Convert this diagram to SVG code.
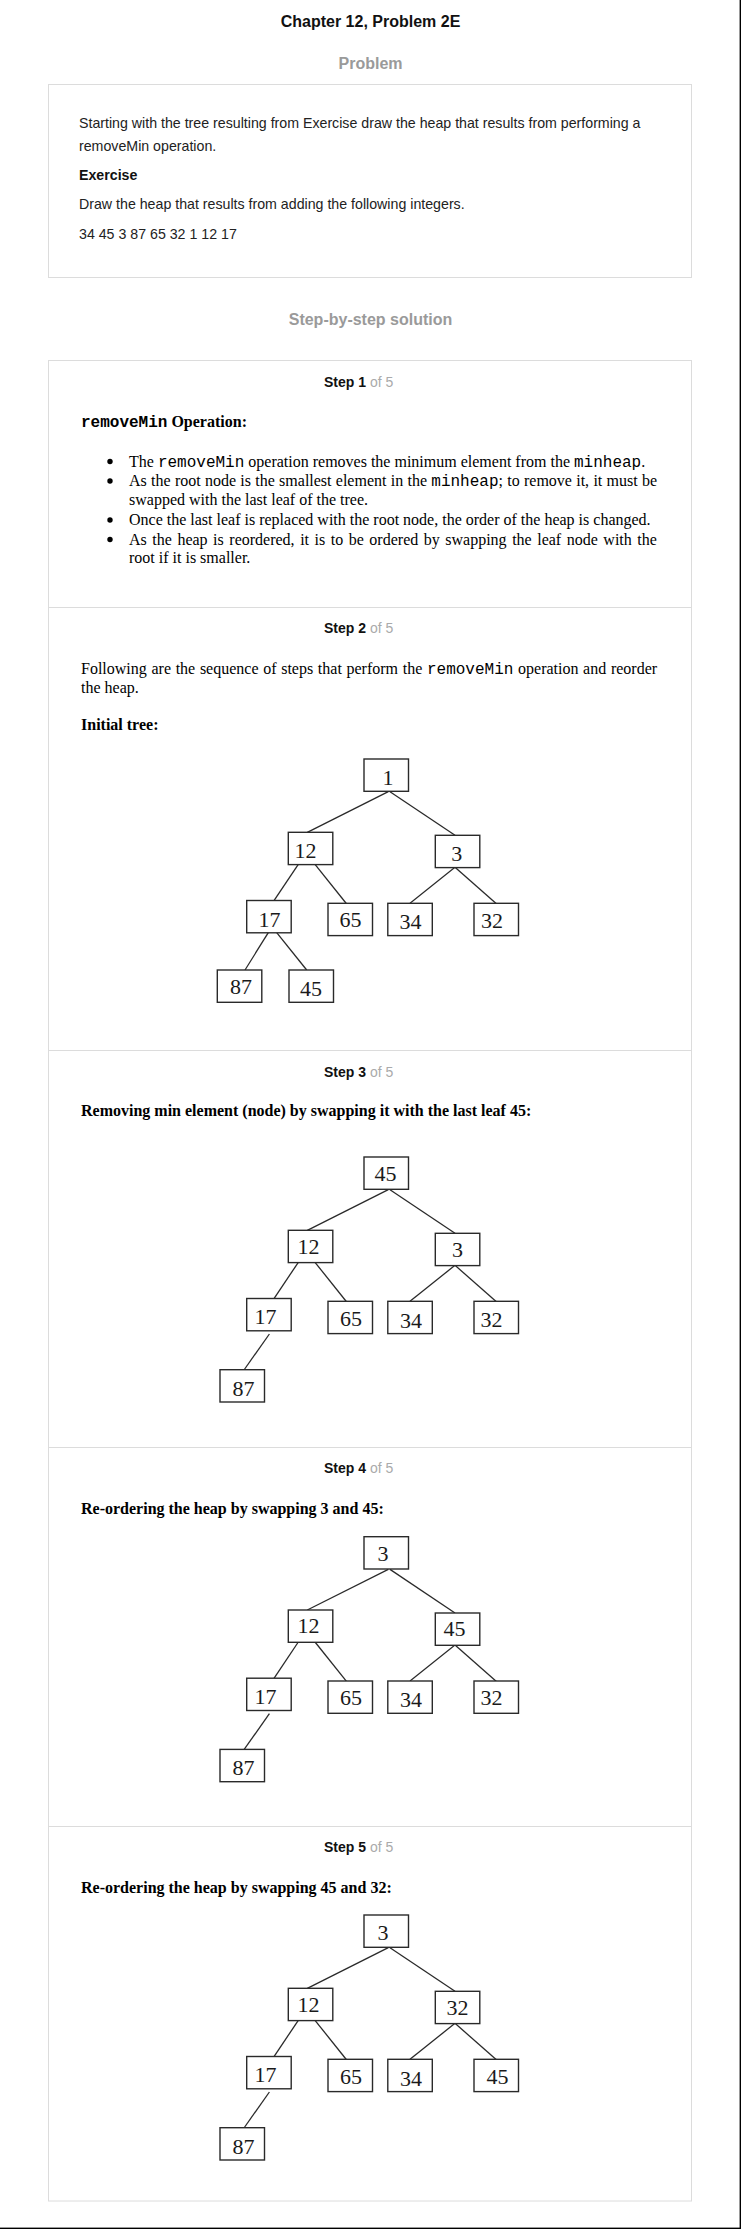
<svg xmlns="http://www.w3.org/2000/svg" width="741" height="2229" viewBox="0 0 741 2229">
<style>
.sans{font-family:"Liberation Sans",Arial,sans-serif}
.h{font-size:16px;font-weight:bold;text-anchor:middle;fill:#111}
.gray{fill:#9a9a9a}
.p{font-size:14.2px;fill:#222}
.pb{font-weight:bold;fill:#111}
.step{font-size:14px;font-weight:bold;fill:#111}
.of{font-weight:normal;fill:#aaa}
.s{font-family:"Liberation Serif","Times New Roman",serif;font-size:16px;fill:#000}
.b{font-weight:bold}
.m{font-family:"Liberation Mono","Courier New",monospace}
.box{fill:#fff;stroke:#dcdcdc;stroke-width:1}
.sep{stroke:#dcdcdc;stroke-width:1}
.node rect{fill:#fff;stroke:#2a2a2a;stroke-width:1.4}
.node text{font-family:"Liberation Serif","Times New Roman",serif;font-size:22px;text-anchor:middle;fill:#1a1a1a}
.edges line{stroke:#2a2a2a;stroke-width:1.3}
.dot{fill:#000}
</style>
<rect x="0" y="0" width="741" height="2229" fill="#fff"/>

<g id="header">
<text class="sans h" x="370.5" y="27">Chapter 12, Problem 2E</text>
<text class="sans h gray" x="370.5" y="69">Problem</text>
</g>

<g id="problem">
<rect class="box" x="48.5" y="84.5" width="643" height="193"/>
<text class="sans p" x="79" y="128">Starting with the tree resulting from Exercise draw the heap that results from performing a</text>
<text class="sans p" x="79" y="151">removeMin operation.</text>
<text class="sans p pb" x="79" y="180">Exercise</text>
<text class="sans p" x="79" y="209">Draw the heap that results from adding the following integers.</text>
<text class="sans p" x="79" y="239">34 45 3 87 65 32 1 12 17</text>
</g>

<text class="sans h gray" x="370.5" y="325">Step-by-step solution</text>

<g id="solution-frame">
<rect class="box" x="48.5" y="360.5" width="643" height="1840.5"/>
<line class="sep" x1="48.5" y1="607.5" x2="691.5" y2="607.5"/>
<line class="sep" x1="48.5" y1="1050.5" x2="691.5" y2="1050.5"/>
<line class="sep" x1="48.5" y1="1447.5" x2="691.5" y2="1447.5"/>
<line class="sep" x1="48.5" y1="1826.5" x2="691.5" y2="1826.5"/>
</g>

<g id="step1">
<text class="sans step" x="324" y="386.7">Step 1<tspan class="of"> of 5</tspan></text>
<text class="s b" x="81" y="426.7"><tspan class="m">removeMin</tspan> Operation:</text>
<circle class="dot" cx="110" cy="461.5" r="2.7"/>
<circle class="dot" cx="110" cy="481" r="2.7"/>
<circle class="dot" cx="110" cy="520" r="2.7"/>
<circle class="dot" cx="110" cy="539.5" r="2.7"/>
<text class="s" x="129" y="466.5">The <tspan class="m">removeMin</tspan> operation removes the minimum element from the <tspan class="m">minheap</tspan>.</text>
<text class="s" x="129" y="486" word-spacing="0.28">As the root node is the smallest element in the <tspan class="m">minheap</tspan>; to remove it, it must be</text>
<text class="s" x="129" y="505">swapped with the last leaf of the tree.</text>
<text class="s" x="129" y="525">Once the last leaf is replaced with the root node, the order of the heap is changed.</text>
<text class="s" x="129" y="544.5" word-spacing="1.53">As the heap is reordered, it is to be ordered by swapping the leaf node with the</text>
<text class="s" x="129" y="563">root if it is smaller.</text>
</g>

<g id="step2">
<text class="sans step" x="324" y="633">Step 2<tspan class="of"> of 5</tspan></text>
<text class="s" x="81" y="674" word-spacing="0.67">Following are the sequence of steps that perform the <tspan class="m">removeMin</tspan> operation and reorder</text>
<text class="s" x="81" y="692.7">the heap.</text>
<text class="s b" x="81" y="730">Initial tree:</text>
<g id="tree2">
<g class="edges" id="tree2-edges">
<line x1="388.3" y1="791.7" x2="307.3" y2="832.3"/>
<line x1="390" y1="791.7" x2="455" y2="835.3"/>
<line x1="298.3" y1="864.3" x2="274" y2="900.7"/>
<line x1="315" y1="864.3" x2="346.7" y2="904"/>
<line x1="455" y1="867.3" x2="410" y2="903.3"/>
<line x1="455" y1="867.3" x2="496.7" y2="904"/>
<line x1="268.3" y1="932.7" x2="245" y2="970"/>
<line x1="276.7" y1="932.7" x2="306.7" y2="970"/>
</g>
<g class="node" id="t2-n1"><rect x="364" y="759" width="44.5" height="32.3"/><text x="388" y="784.5">1</text></g>
<g class="node" id="t2-n12"><rect x="288.3" y="832.3" width="44.5" height="32.3"/><text x="305.5" y="857.8">12</text></g>
<g class="node" id="t2-n3"><rect x="435.3" y="835.3" width="44.5" height="32.3"/><text x="456.7" y="860.5">3</text></g>
<g class="node" id="t2-n17"><rect x="246.7" y="900.5" width="44.5" height="32.3"/><text x="269.5" y="926.5">17</text></g>
<g class="node" id="t2-n65"><rect x="328" y="903.3" width="44.5" height="32.3"/><text x="350.5" y="927">65</text></g>
<g class="node" id="t2-n34"><rect x="387.8" y="903.3" width="44.5" height="32.3"/><text x="410.5" y="929">34</text></g>
<g class="node" id="t2-n32"><rect x="474" y="903.3" width="44.5" height="32.3"/><text x="492" y="927.5">32</text></g>
<g class="node" id="t2-n87"><rect x="217.3" y="970" width="44.5" height="32.3"/><text x="241" y="994">87</text></g>
<g class="node" id="t2-n45"><rect x="289" y="970" width="44.5" height="32.3"/><text x="311" y="996">45</text></g>
</g>
</g>

<g id="step3">
<text class="sans step" x="324" y="1076.7">Step 3<tspan class="of"> of 5</tspan></text>
<text class="s b" x="81" y="1116">Removing min element (node) by swapping it with the last leaf 45:</text>
<g id="tree3" transform="translate(0,398)">
<g class="edges" id="tree3-edges">
<line x1="388.3" y1="791.7" x2="307.3" y2="832.3"/>
<line x1="390" y1="791.7" x2="455" y2="835.3"/>
<line x1="298.3" y1="864.3" x2="274" y2="900.7"/>
<line x1="315" y1="864.3" x2="346.7" y2="904"/>
<line x1="455" y1="867.3" x2="410" y2="903.3"/>
<line x1="455" y1="867.3" x2="496.7" y2="904"/>
<line x1="269.4" y1="936" x2="244" y2="972"/>
</g>
<g class="node" id="t3-n45"><rect x="364" y="759" width="44.5" height="32.3"/><text x="385.5" y="783">45</text></g>
<g class="node" id="t3-n12"><rect x="288.3" y="832.3" width="44.5" height="32.3"/><text x="308.5" y="856">12</text></g>
<g class="node" id="t3-n3"><rect x="435.3" y="835.3" width="44.5" height="32.3"/><text x="457.5" y="858.8">3</text></g>
<g class="node" id="t3-n17"><rect x="246.7" y="900.5" width="44.5" height="32.3"/><text x="265.5" y="926">17</text></g>
<g class="node" id="t3-n65"><rect x="328" y="903.3" width="44.5" height="32.3"/><text x="351" y="927.5">65</text></g>
<g class="node" id="t3-n34"><rect x="387.8" y="903.3" width="44.5" height="32.3"/><text x="411" y="929.8">34</text></g>
<g class="node" id="t3-n32"><rect x="474" y="903.3" width="44.5" height="32.3"/><text x="491.5" y="928.5">32</text></g>
<g class="node" id="t3-n87"><rect x="220" y="971.7" width="44.5" height="32.3"/><text x="243.4" y="998">87</text></g>
</g>
</g>

<g id="step4">
<text class="sans step" x="324" y="1473">Step 4<tspan class="of"> of 5</tspan></text>
<text class="s b" x="81" y="1514">Re-ordering the heap by swapping 3 and 45:</text>
<g id="tree4" transform="translate(0,777.7)">
<g class="edges" id="tree4-edges">
<line x1="388.3" y1="791.7" x2="307.3" y2="832.3"/>
<line x1="390" y1="791.7" x2="455" y2="835.3"/>
<line x1="298.3" y1="864.3" x2="274" y2="900.7"/>
<line x1="315" y1="864.3" x2="346.7" y2="904"/>
<line x1="455" y1="867.3" x2="410" y2="903.3"/>
<line x1="455" y1="867.3" x2="496.7" y2="904"/>
<line x1="269.4" y1="936" x2="244" y2="972"/>
</g>
<g class="node" id="t4-n3"><rect x="364" y="759" width="44.5" height="32.3"/><text x="383" y="783.5">3</text></g>
<g class="node" id="t4-n12"><rect x="288.3" y="832.3" width="44.5" height="32.3"/><text x="308.5" y="855.5">12</text></g>
<g class="node" id="t4-n45"><rect x="435.3" y="835.3" width="44.5" height="32.3"/><text x="454.6" y="858.8">45</text></g>
<g class="node" id="t4-n17"><rect x="246.7" y="900.5" width="44.5" height="32.3"/><text x="265.6" y="926">17</text></g>
<g class="node" id="t4-n65"><rect x="328" y="903.3" width="44.5" height="32.3"/><text x="351" y="927">65</text></g>
<g class="node" id="t4-n34"><rect x="387.8" y="903.3" width="44.5" height="32.3"/><text x="411" y="929.5">34</text></g>
<g class="node" id="t4-n32"><rect x="474" y="903.3" width="44.5" height="32.3"/><text x="491.5" y="927.8">32</text></g>
<g class="node" id="t4-n87"><rect x="220" y="971.7" width="44.5" height="32.3"/><text x="243.4" y="997.8">87</text></g>
</g>
</g>

<g id="step5">
<text class="sans step" x="324" y="1852">Step 5<tspan class="of"> of 5</tspan></text>
<text class="s b" x="81" y="1892.7">Re-ordering the heap by swapping 45 and 32:</text>
<g id="tree5" transform="translate(0,1156)">
<g class="edges" id="tree5-edges">
<line x1="388.3" y1="791.7" x2="307.3" y2="832.3"/>
<line x1="390" y1="791.7" x2="455" y2="835.3"/>
<line x1="298.3" y1="864.3" x2="274" y2="900.7"/>
<line x1="315" y1="864.3" x2="346.7" y2="904"/>
<line x1="455" y1="867.3" x2="410" y2="903.3"/>
<line x1="455" y1="867.3" x2="496.7" y2="904"/>
<line x1="269.4" y1="936" x2="244" y2="972"/>
</g>
<g class="node" id="t5-n3"><rect x="364" y="759" width="44.5" height="32.3"/><text x="383" y="783.8">3</text></g>
<g class="node" id="t5-n12"><rect x="288.3" y="832.3" width="44.5" height="32.3"/><text x="308.5" y="855.5">12</text></g>
<g class="node" id="t5-n32"><rect x="435.3" y="835.3" width="44.5" height="32.3"/><text x="457.5" y="858.5">32</text></g>
<g class="node" id="t5-n17"><rect x="246.7" y="900.5" width="44.5" height="32.3"/><text x="265.6" y="926.2">17</text></g>
<g class="node" id="t5-n65"><rect x="328" y="903.3" width="44.5" height="32.3"/><text x="351" y="927.5">65</text></g>
<g class="node" id="t5-n34"><rect x="387.8" y="903.3" width="44.5" height="32.3"/><text x="411" y="929.5">34</text></g>
<g class="node" id="t5-n45"><rect x="474" y="903.3" width="44.5" height="32.3"/><text x="497.6" y="927.8">45</text></g>
<g class="node" id="t5-n87"><rect x="220" y="971.7" width="44.5" height="32.3"/><text x="243.4" y="997.8">87</text></g>
</g>
</g>

<g id="frame-edge">
<rect x="739.6" y="0" width="1.4" height="2229" fill="#000"/>
<rect x="0" y="2227.6" width="741" height="1.4" fill="#000"/>
</g>
</svg>
